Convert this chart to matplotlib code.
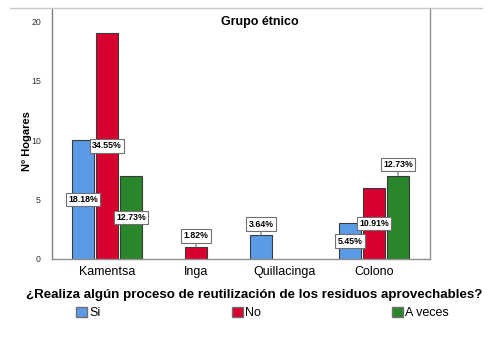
import matplotlib.pyplot as plt
import numpy as np
from matplotlib.lines import Line2D
from matplotlib.patches import Patch

plt.rcParams['font.family'] = ['Liberation Sans', 'DejaVu Sans']

# datos
grupos = ['Kamentsa', 'Inga', 'Quillacinga', 'Colono']
respuestas = ['Si', 'No', 'A veces']
si = [10, 0, 2, 3]
no = [19, 1, 0, 6]
a_veces = [7, 0, 0, 7]
pct_si = ['18.18%', '', '3.64%', '5.45%']
pct_no = ['34.55%', '1.82%', '', '10.91%']
pct_av = ['12.73%', '', '', '12.73%']
# donde va la etiqueta: 'm' = mitad de la barra, 'a' = encima
pos_si = ['m', '', 'a', 'm']
pos_no = ['m', 'a', '', 'm']
pos_av = ['m', '', '', 'a']

colores = ['#5b9be6', '#d7002f', '#2a862a']

fig = plt.figure(figsize=(5.03, 3.64), dpi=100)
ax = fig.add_axes([52 / 503, 1 - 259 / 364, 378 / 503, 251 / 364])

x = np.arange(len(grupos))
ancho = 0.247
paso = 0.27

series = [(si, pct_si, pos_si), (no, pct_no, pos_no), (a_veces, pct_av, pos_av)]
for i, (vals, pcts, poss) in enumerate(series):
    xs = x + (i - 1) * paso
    for xi, v, p, pos in zip(xs, vals, pcts, poss):
        if v == 0:
            continue
        ax.bar(xi, v, width=ancho, color=colores[i], edgecolor='#3a3a3a', linewidth=0.8)
        caja = dict(boxstyle='square,pad=0.25', fc='white', ec='#707070', lw=0.8)
        if pos == 'm':
            ax.text(xi, v / 2, p, ha='center', va='center', fontsize=6.3,
                    fontweight='bold', bbox=caja, zorder=5)
        else:
            ax.annotate(p, xy=(xi, v), xytext=(0, 8), textcoords='offset points',
                        ha='center', va='center', fontsize=6.3, fontweight='bold',
                        bbox=caja, zorder=5,
                        arrowprops=dict(arrowstyle='-', color='#707070', lw=0.8,
                                        shrinkA=0, shrinkB=0))

ax.set_xlim(-0.618, 3.63)
ax.set_ylim(0, 21.1)
ax.set_yticks([0, 5, 10, 15, 20])
ax.tick_params(axis='y', length=0, pad=8, labelsize=6.3, labelcolor='#333333')
ax.set_xticks(x)
ax.set_xticklabels(grupos, fontsize=9)
ax.tick_params(axis='x', length=0, pad=5)

ax.spines['top'].set_visible(False)
ax.spines['left'].set_color('#808080')
ax.spines['right'].set_color('#909090')
ax.spines['bottom'].set_color('#909090')
for s in ['left', 'right', 'bottom']:
    ax.spines[s].set_linewidth(1.0)

ax.set_ylabel('Nº Hogares', fontsize=8, fontweight='bold', labelpad=12)
ax.set_xlabel('¿Realiza algún proceso de reutilización de los residuos aprovechables?',
              fontsize=9.6, fontweight='bold', labelpad=7)
ax.xaxis.set_label_coords((254 - 52) / 378, -(289 - 259) / 251)
ax.yaxis.set_label_coords(-(52 - 32) / 378, 0.47)

ax.text((260 - 52) / 378, 1 - 14 / 251, 'Grupo étnico', transform=ax.transAxes,
        ha='center', va='center', fontsize=9, fontweight='bold')

# linea superior
fig.add_artist(Line2D([10 / 503, 482 / 503], [1 - 8 / 364, 1 - 8 / 364],
                      color='#c8c8c8', lw=1.0))

handles = [Patch(facecolor=c, edgecolor='#707070') for c in colores]
fig.legend(handles, respuestas, loc='center left', ncol=3, frameon=False,
           bbox_to_anchor=(76 / 503, 1 - 313 / 364), fontsize=9,
           handlelength=0.9, handleheight=0.9, handletextpad=0.15,
           columnspacing=10.5, borderaxespad=0, borderpad=0)

fig.savefig('out.png', dpi=100)
